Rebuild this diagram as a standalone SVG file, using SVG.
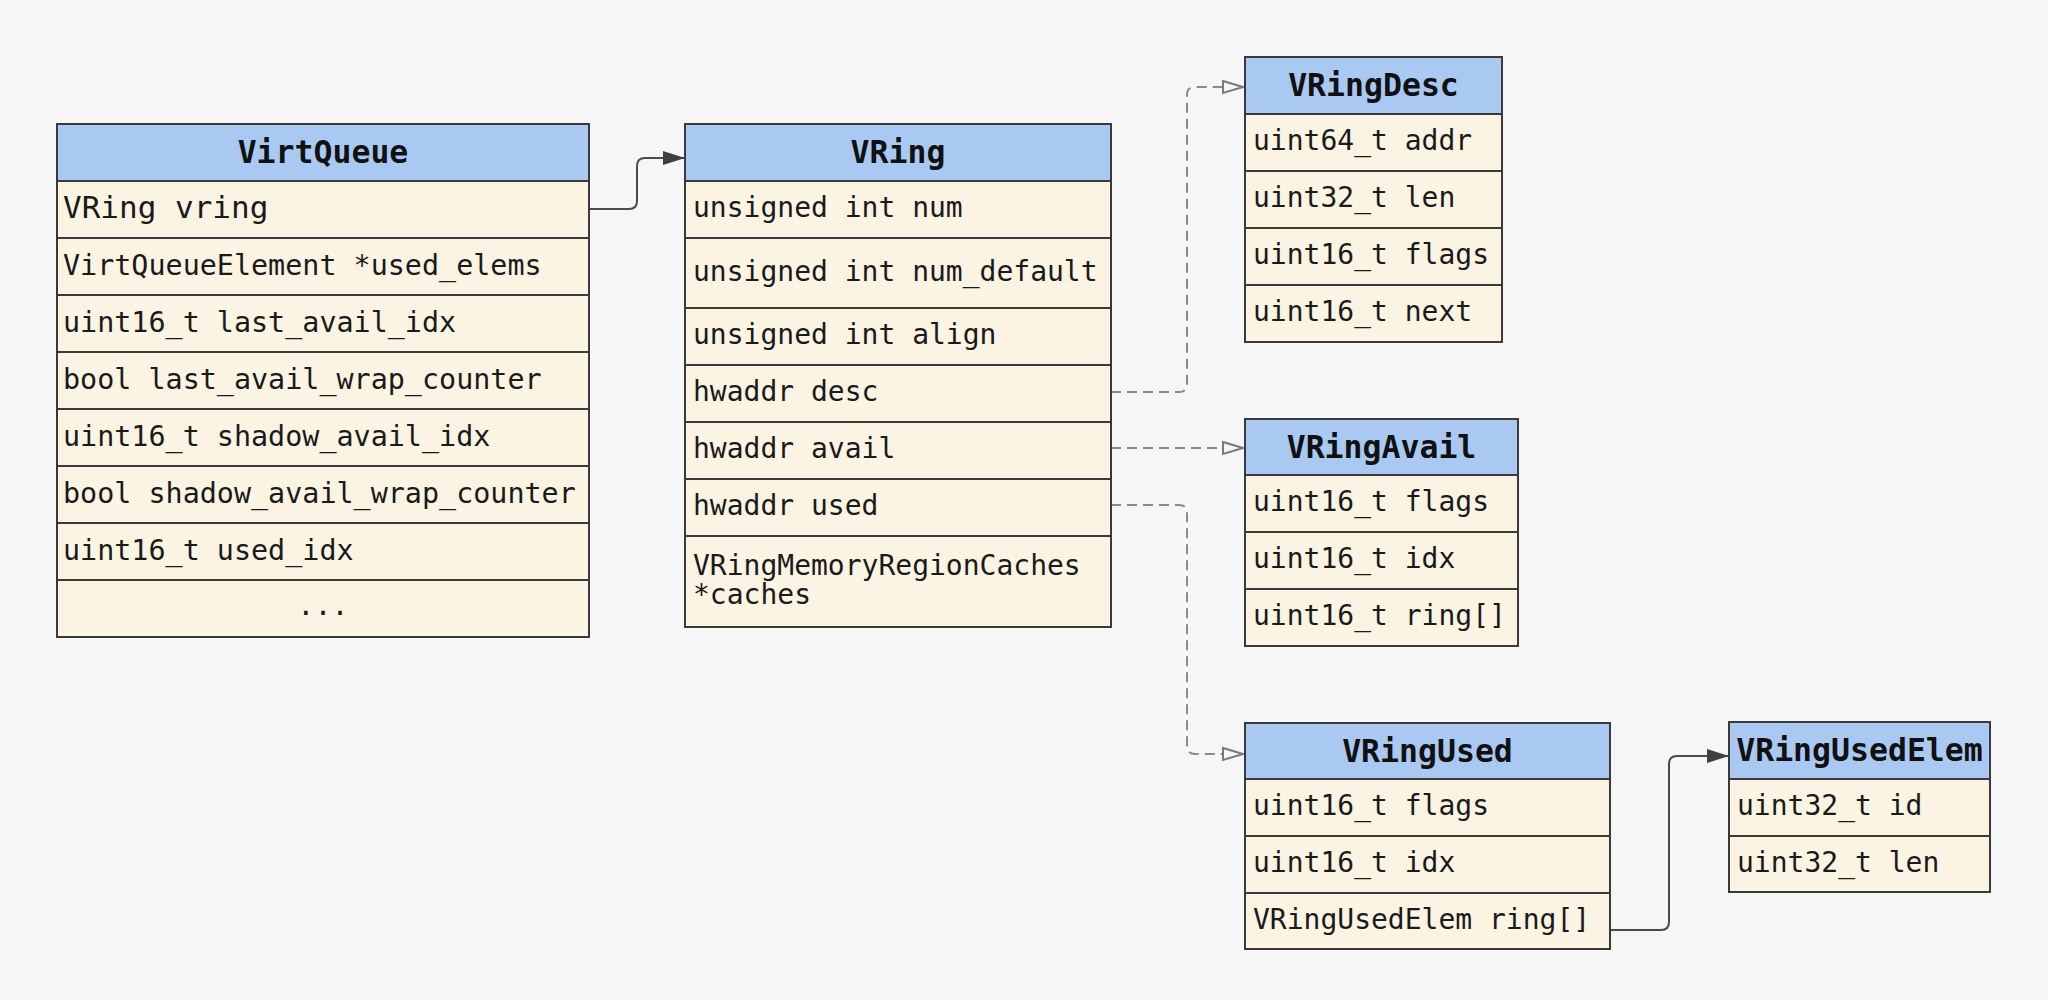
<svg xmlns="http://www.w3.org/2000/svg" width="2048" height="1000" viewBox="0 0 2048 1000">
<style>
.hdr{fill:#a9c9f2;stroke:#3a3a3a;stroke-width:2}
.row{fill:#fbf4e3;stroke:#3a3a3a;stroke-width:2}
.ht{font-family:"DejaVu Sans Mono",monospace;font-weight:bold;font-size:31.5px;fill:#111;text-anchor:middle}
.t{font-family:"DejaVu Sans Mono",monospace;font-size:28px;fill:#1a1a1a}
.ts{font-family:"DejaVu Sans Mono",monospace;font-size:28.4px;fill:#1a1a1a}
.solid{fill:none;stroke:#4a4a4a;stroke-width:2}
.dash{fill:none;stroke:#8a8a8a;stroke-width:2;stroke-dasharray:10 6}
</style>
<defs>
<marker id="fa" markerUnits="userSpaceOnUse" viewBox="0 0 22 14" refX="21" refY="7" markerWidth="22" markerHeight="14" orient="auto">
<path d="M0,0 L22,7 L0,14 z" fill="#3c3f44"/>
</marker>
<marker id="ha" markerUnits="userSpaceOnUse" viewBox="0 0 24 16" refX="22" refY="8" markerWidth="24" markerHeight="16" orient="auto">
<path d="M2,2 L22,8 L2,14 z" fill="#f6f6f6" stroke="#7a7a7a" stroke-width="2" stroke-dasharray="none"/>
</marker>
</defs>
<rect width="2048" height="1000" fill="#f6f6f6"/>

<g id="connectors">
<path class="solid" d="M589,209 H629 Q637,209 637,201 V166 Q637,158 645,158 H684" marker-end="url(#fa)"/>
<path class="dash" d="M1111,392 H1179 Q1187,392 1187,384 V95 Q1187,87 1195,87 H1243" marker-end="url(#ha)"/>
<path class="dash" d="M1111,448 H1243" marker-end="url(#ha)"/>
<path class="dash" d="M1111,505 H1179 Q1187,505 1187,513 V746 Q1187,754 1195,754 H1243" marker-end="url(#ha)"/>
<path class="solid" d="M1610,930 H1661 Q1669,930 1669,922 V764 Q1669,756 1677,756 H1728" marker-end="url(#fa)"/>
</g>

<g id="VirtQueue">
<rect class="hdr" x="57" y="124" width="532" height="57"/>
<rect class="row" x="57" y="181" width="532" height="57"/>
<rect class="row" x="57" y="238" width="532" height="57"/>
<rect class="row" x="57" y="295" width="532" height="57"/>
<rect class="row" x="57" y="352" width="532" height="57"/>
<rect class="row" x="57" y="409" width="532" height="57"/>
<rect class="row" x="57" y="466" width="532" height="57"/>
<rect class="row" x="57" y="523" width="532" height="57"/>
<rect class="row" x="57" y="580" width="532" height="57"/>
<text class="ht" x="323" y="163">VirtQueue</text>
<text class="t" x="63" y="218" style="font-size:31px">VRing vring</text>
<text class="ts" x="63" y="275">VirtQueueElement *used_elems</text>
<text class="ts" x="63" y="332">uint16_t last_avail_idx</text>
<text class="ts" x="63" y="389">bool last_avail_wrap_counter</text>
<text class="ts" x="63" y="446">uint16_t shadow_avail_idx</text>
<text class="ts" x="63" y="503">bool shadow_avail_wrap_counter</text>
<text class="ts" x="63" y="560">uint16_t used_idx</text>
<text class="ts" x="323" y="615" text-anchor="middle">...</text>
</g>

<g id="VRing">
<rect class="hdr" x="685" y="124" width="426" height="57"/>
<rect class="row" x="685" y="181" width="426" height="57"/>
<rect class="row" x="685" y="238" width="426" height="70"/>
<rect class="row" x="685" y="308" width="426" height="57"/>
<rect class="row" x="685" y="365" width="426" height="57"/>
<rect class="row" x="685" y="422" width="426" height="57"/>
<rect class="row" x="685" y="479" width="426" height="57"/>
<rect class="row" x="685" y="536" width="426" height="91"/>
<text class="ht" x="898" y="163">VRing</text>
<text class="t" x="693" y="217">unsigned int num</text>
<text class="t" x="693" y="281">unsigned int num_default</text>
<text class="t" x="693" y="344">unsigned int align</text>
<text class="t" x="693" y="401">hwaddr desc</text>
<text class="t" x="693" y="458">hwaddr avail</text>
<text class="t" x="693" y="515">hwaddr used</text>
<text class="t" x="693" y="575">VRingMemoryRegionCaches<tspan x="693" dy="29">*caches</tspan></text>
</g>

<g id="VRingDesc">
<rect class="hdr" x="1245" y="57" width="257" height="57"/>
<rect class="row" x="1245" y="114" width="257" height="57"/>
<rect class="row" x="1245" y="171" width="257" height="57"/>
<rect class="row" x="1245" y="228" width="257" height="57"/>
<rect class="row" x="1245" y="285" width="257" height="57"/>
<text class="ht" x="1373.5" y="96">VRingDesc</text>
<text class="t" x="1253" y="150">uint64_t addr</text>
<text class="t" x="1253" y="207">uint32_t len</text>
<text class="t" x="1253" y="264">uint16_t flags</text>
<text class="t" x="1253" y="321">uint16_t next</text>
</g>

<g id="VRingAvail">
<rect class="hdr" x="1245" y="419" width="273" height="56"/>
<rect class="row" x="1245" y="475" width="273" height="57"/>
<rect class="row" x="1245" y="532" width="273" height="57"/>
<rect class="row" x="1245" y="589" width="273" height="57"/>
<text class="ht" x="1381.5" y="458">VRingAvail</text>
<text class="t" x="1253" y="511">uint16_t flags</text>
<text class="t" x="1253" y="568">uint16_t idx</text>
<text class="t" x="1253" y="625">uint16_t ring[]</text>
</g>

<g id="VRingUsed">
<rect class="hdr" x="1245" y="723" width="365" height="56"/>
<rect class="row" x="1245" y="779" width="365" height="57"/>
<rect class="row" x="1245" y="836" width="365" height="57"/>
<rect class="row" x="1245" y="893" width="365" height="56"/>
<text class="ht" x="1427.5" y="762">VRingUsed</text>
<text class="t" x="1253" y="815">uint16_t flags</text>
<text class="t" x="1253" y="872">uint16_t idx</text>
<text class="t" x="1253" y="929">VRingUsedElem ring[]</text>
</g>

<g id="VRingUsedElem">
<rect class="hdr" x="1729" y="722" width="261" height="57"/>
<rect class="row" x="1729" y="779" width="261" height="57"/>
<rect class="row" x="1729" y="836" width="261" height="56"/>
<text class="ht" x="1859.5" y="761">VRingUsedElem</text>
<text class="t" x="1737" y="815">uint32_t id</text>
<text class="t" x="1737" y="872">uint32_t len</text>
</g>
</svg>
